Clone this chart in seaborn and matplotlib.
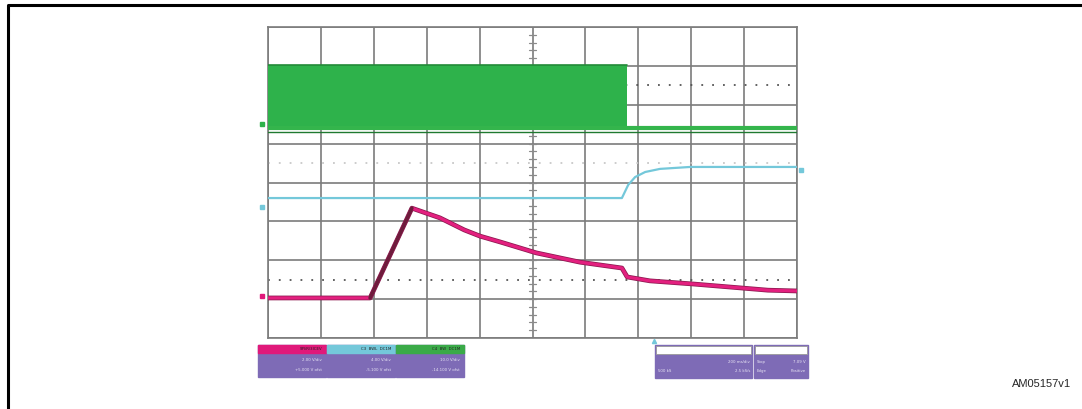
import numpy as np
import pandas as pd
import matplotlib.pyplot as plt
import seaborn as sns
from matplotlib.patches import Rectangle

# screen is 10 x 8 divisions; values in divisions
ch1_x = [0.0, 1.93, 2.72, 3.25, 3.71, 4.01, 4.39, 5.07, 5.90, 6.69, 6.79, 7.22, 8.03, 8.92, 9.45, 10.0]
ch1_y = [1.03, 1.03, 3.34, 3.09, 2.78, 2.62, 2.47, 2.19, 1.95, 1.80, 1.57, 1.47, 1.39, 1.29, 1.23, 1.21]

ch3_x = [0.0, 6.69, 6.81, 6.94, 7.13, 7.41, 7.98, 10.0]
ch3_y = [3.60, 3.60, 3.94, 4.14, 4.27, 4.35, 4.40, 4.40]

ch4_switch_end = 6.79
ch4_band_low = 5.38
ch4_band_high = 7.02
ch4_x = [0.0, 10.0]
ch4_y = [5.40, 5.40]

ch_left_readout = [
    ("SPI/R/3ICEV", "2.00 V/div", "+5.000 V ofst"),
    ("C3  BWL  DC1M", "4.00 V/div", "-5.100 V ofst"),
    ("C4  BW  DC1M", "10.0 V/div", "-14.100 V ofst"),
]
tb_readout = ["Tbase", "200 ms/div", "500 kS", "2.5 kS/s"]
trig_readout = ["Trigger", "Stop", "7.09 V", "Edge", "Positive"]
figure_id = "AM05157v1"

W, H = 1082, 409
sns.set_style("white")
fig = plt.figure(figsize=(W / 100, H / 100), dpi=100)

canvas = fig.add_axes([0, 0, 1, 1])
canvas.set_xlim(0, W)
canvas.set_ylim(H, 0)
canvas.axis('off')

# outer frame (open to the right / bottom)
canvas.plot([7.5, 7.5, W + 5], [H + 5, 4.5, 4.5], color='black', lw=2.2, solid_capstyle='butt')

ax = fig.add_axes([268 / W, 1 - 338 / H, 529 / W, 311 / H])
ax.set_xlim(0, 10)
ax.set_ylim(0, 8)
ax.set_xticks(range(11))
ax.set_yticks(range(9))
ax.set_axisbelow(True)
ax.grid(True, color='#7c7c7c', lw=1.2)
ax.tick_params(length=0, labelleft=False, labelbottom=False)
for s in ax.spines.values():
    s.set_color('#7c7c7c')
    s.set_linewidth(1.2)

# center line ticks
for yy in np.arange(0.2, 8, 0.2):
    ax.plot([4.94, 5.06], [yy, yy], color='#8a8a8a', lw=0.9)

# dotted reference rows
for yy, c in [(6.5, '#555555'), (1.5, '#555555'), (4.5, '#c8c8c8')]:
    ax.axhline(yy, color=c, lw=1.3, ls=(0, (1, 5)))

# channel 4 (green)
ax.fill_between([0, ch4_switch_end], ch4_band_low, ch4_band_high, color='#2eb24b', lw=0, zorder=3)
ax.plot([0, ch4_switch_end], [ch4_band_high, ch4_band_high], color='#238a38', lw=1.2, zorder=3)
sns.lineplot(x=ch4_x, y=ch4_y, ax=ax, color='#34b54c', lw=3.0, estimator=None, sort=False, zorder=4)
sns.lineplot(x=ch4_x, y=[v - 0.1 for v in ch4_y], ax=ax, color='#1f7a30', lw=1.0,
             estimator=None, sort=False, zorder=4)

# channel 3 (cyan)
sns.lineplot(x=ch3_x, y=ch3_y, ax=ax, color='#74c8da', lw=1.6, estimator=None, sort=False, zorder=5)

# channel 1 (magenta)
sns.lineplot(x=ch1_x, y=ch1_y, ax=ax, color='#8c1a50', lw=3.4, estimator=None, sort=False, zorder=6)
sns.lineplot(x=ch1_x, y=ch1_y, ax=ax, color='#e3207f', lw=2.3, estimator=None, sort=False, zorder=7)
sns.lineplot(x=ch1_x[1:3], y=ch1_y[1:3], ax=ax, color='#6e1c3c', lw=2.6, estimator=None, sort=False, zorder=8)
ax.set_xlabel('')
ax.set_ylabel('')

# level markers
canvas.plot([262], [124], marker='s', ms=3, color='#2eb24b')
canvas.plot([262], [207], marker='s', ms=3, color='#74c8da')
canvas.plot([262], [296], marker='s', ms=3, color='#e0197a')
canvas.plot([801], [170], marker='s', ms=3, color='#74c8da')
canvas.plot([654], [341], marker='^', ms=3, color='#74c8da')

# LeCroy badge
canvas.add_patch(Rectangle((758, 30), 37, 9, color='#1e2a7a'))
canvas.text(776.5, 34.5, "LeCroy", color='white', fontsize=4, ha='center', va='center', weight='bold')

# channel readouts
purple = '#7e6bb6'
heads = ['#e0197a', '#74c8da', '#3aaa48']
x0 = 258
for (hd, l1, l2), hc in zip(ch_left_readout, heads):
    canvas.add_patch(Rectangle((x0, 345), 68, 32, color=purple))
    canvas.add_patch(Rectangle((x0, 345), 68, 8, color=hc))
    canvas.text(x0 + 64, 349, hd, color='#222222', fontsize=2.8, ha='right', va='center')
    canvas.text(x0 + 64, 360, l1, color='#e8e4f4', fontsize=2.8, ha='right', va='center')
    canvas.text(x0 + 64, 370, l2, color='#e8e4f4', fontsize=2.8, ha='right', va='center')
    x0 += 69

canvas.add_patch(Rectangle((655, 345), 97, 33, color=purple))
canvas.add_patch(Rectangle((656, 346), 95, 8, facecolor='white', edgecolor='#999999', lw=0.6))
canvas.add_patch(Rectangle((754, 345), 54, 33, color=purple))
canvas.add_patch(Rectangle((755, 346), 52, 8, facecolor='white', edgecolor='#999999', lw=0.6))
canvas.text(750, 362, tb_readout[1], color='#e8e4f4', fontsize=2.8, ha='right', va='center')
canvas.text(658, 371, tb_readout[2], color='#e8e4f4', fontsize=2.8, ha='left', va='center')
canvas.text(750, 371, tb_readout[3], color='#e8e4f4', fontsize=2.8, ha='right', va='center')
canvas.text(757, 362, trig_readout[1], color='#e8e4f4', fontsize=2.8, ha='left', va='center')
canvas.text(806, 362, trig_readout[2], color='#e8e4f4', fontsize=2.8, ha='right', va='center')
canvas.text(757, 371, trig_readout[3], color='#e8e4f4', fontsize=2.8, ha='left', va='center')
canvas.text(806, 371, trig_readout[4], color='#e8e4f4', fontsize=2.8, ha='right', va='center')

canvas.text(1071, 384, figure_id, fontsize=8, ha='right', va='center', family='Liberation Sans')

plt.savefig('out.png', dpi=100)
plt.close()
